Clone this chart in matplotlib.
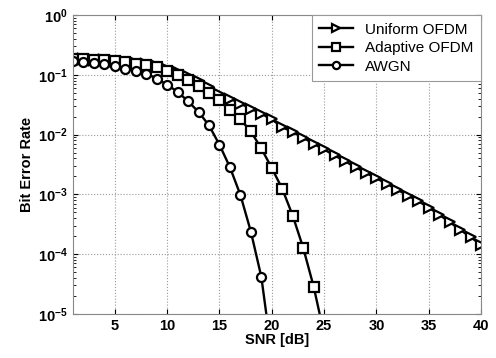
import matplotlib
matplotlib.use("Agg")
import matplotlib.pyplot as plt
from matplotlib.ticker import LogLocator, NullFormatter

plt.rcParams['font.family'] = ['Liberation Sans', 'DejaVu Sans']
plt.rcParams['font.weight'] = 'bold'
plt.rcParams['mathtext.default'] = 'bf'

snr_uniform = list(range(1, 41))
ber_uniform = [0.1863, 0.1827, 0.1792, 0.1758, 0.1724, 0.1659, 0.1596, 0.1506,
               0.1394, 0.1265, 0.1105, 0.0947, 0.0781, 0.0627, 0.0486, 0.0400,
               0.0330, 0.0272, 0.0224, 0.0180, 0.01336, 0.0110, 0.00887, 0.00704,
               0.00564, 0.00448, 0.00359, 0.00285, 0.00229, 0.00186, 0.00150,
               0.00120, 0.000955, 0.000772, 0.000601, 0.000458, 0.000343,
               0.000257, 0.000192, 0.000144]

snr_adaptive = list(range(1, 26))
ber_adaptive = [0.186, 0.183, 0.179, 0.176, 0.169, 0.1627, 0.1536, 0.1449,
                0.1341, 0.1172, 0.0985, 0.0812, 0.0657, 0.0505, 0.0375, 0.0262,
                0.0180, 0.01132, 0.00587, 0.00276, 0.00124, 0.000441, 0.000128,
                2.87e-5, 4.6e-6]

snr_awgn = list(range(1, 21))
ber_awgn = [0.1711, 0.1646, 0.1547, 0.1489, 0.1394, 0.1275, 0.1162, 0.1051,
            0.0867, 0.0682, 0.0521, 0.0361, 0.0240, 0.01427, 0.00677, 0.00285,
            0.000981, 0.000239, 4.18e-5, 2.1e-6]

labels = ['Uniform OFDM', 'Adaptive OFDM', 'AWGN']
xticks = [5, 10, 15, 20, 25, 30, 35, 40]

fig = plt.figure(figsize=(4.96, 3.58), dpi=100)
ax = fig.add_axes([0.147, 0.123, 0.823, 0.835])

common = dict(color='black', linewidth=1.7, markersize=6.5,
              markerfacecolor='white', markeredgecolor='black', markeredgewidth=1.6)
ax.semilogy(snr_uniform, ber_uniform, marker='>', label=labels[0], **common)
ax.semilogy(snr_adaptive, ber_adaptive, marker='s', label=labels[1], **common)
ax.semilogy(snr_awgn, ber_awgn, marker='o', label=labels[2], **common)

ax.set_xlim(1, 40)
ax.set_ylim(1e-5, 1)
ax.set_xticks(xticks)
ax.yaxis.set_major_locator(LogLocator(base=10, numticks=10))
ax.yaxis.set_minor_locator(LogLocator(base=10, subs=(2, 3, 4, 5, 6, 7, 8, 9), numticks=10))
ax.yaxis.set_minor_formatter(NullFormatter())
ax.tick_params(direction='in', which='both', labelsize=10.5, top=True, right=True)
ax.tick_params(which='minor', length=2)
ax.grid(True, which='major', linestyle=':', color='#999999', linewidth=0.8)

for sp in ax.spines.values():
    sp.set_color('#888888')
    sp.set_linewidth(0.8)

ax.set_xlabel('SNR [dB]', fontsize=10.5, fontweight='bold', labelpad=0)
ax.set_ylabel('Bit Error Rate', fontsize=10.5, fontweight='bold', labelpad=3)

leg = ax.legend(loc='upper right', fontsize=11, frameon=True, fancybox=False,
                borderaxespad=0.0, handlelength=2.2, labelspacing=0.3,
                borderpad=0.5, markerscale=0.8, framealpha=1)
leg.get_frame().set_edgecolor('#999999')
leg.get_frame().set_linewidth(0.8)
for t in leg.get_texts():
    t.set_fontweight('normal')

fig.savefig('out.png', dpi=100)
